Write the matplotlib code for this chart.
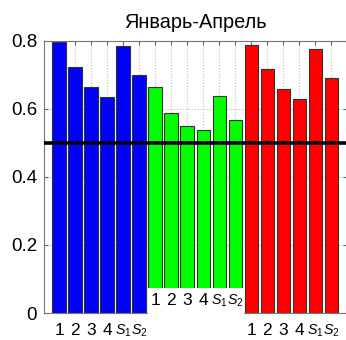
import matplotlib
matplotlib.use("Agg")
import matplotlib.pyplot as plt
import numpy as np
from matplotlib.patches import Rectangle

plt.rcParams['font.family'] = ['Liberation Sans', 'DejaVu Sans']
plt.rcParams['mathtext.fontset'] = 'custom'
plt.rcParams['mathtext.it'] = 'Liberation Sans:italic'
plt.rcParams['mathtext.rm'] = 'Liberation Sans'

title = "Январь-Апрель"
labels = ["1", "2", "3", "4", "$S_1$", "$S_2$"]
blue_vals = [0.795, 0.722, 0.663, 0.635, 0.783, 0.700]
green_vals = [0.663, 0.587, 0.550, 0.537, 0.637, 0.566]
red_vals = [0.788, 0.716, 0.657, 0.628, 0.775, 0.690]
threshold = 0.5
yticks = [0, 0.2, 0.4, 0.6, 0.8]

W, H = 346, 340
fig = plt.figure(figsize=(W / 100, H / 100), dpi=100)
ax = fig.add_axes([44 / W, (H - 313) / H, (347 - 44) / W, (313 - 40.7) / H])

vals = blue_vals + green_vals + red_vals
colors = ['#0000ff'] * 6 + ['#00ff00'] * 6 + ['#ff0000'] * 6
x = np.arange(len(vals))
ax.bar(x, vals, width=0.84, color=colors, edgecolor='#333333', linewidth=0.8, zorder=2)
ax.axhline(threshold, color='black', linewidth=2.6, zorder=4)

S_FS = 10.3
ax.set_xlim(-0.936, 17.97)
ax.set_ylim(0, 0.8)
ax.set_yticks(yticks)
ax.set_yticklabels(["0", "0.2", "0.4", "0.6", "0.8"], fontsize=13.5)
ax.set_xticks(x)
ax.set_xticklabels(labels + [""] * 6 + labels, fontsize=12.5)
for t in ax.get_xticklabels():
    if t.get_text().startswith("$"):
        t.set_fontsize(S_FS)
ax.tick_params(direction='in', top=True, right=True, length=3, color='#666666')
ax.tick_params(axis='x', pad=7)
ax.tick_params(axis='y', pad=5)
for s in ax.spines.values():
    s.set_color('#777777')
    s.set_linewidth(0.8)
ax.grid(True, linestyle=':', color='#bbbbbb', linewidth=0.8, zorder=0)
ax.set_axisbelow(True)

# white patch over the lower part of the green group
patch = Rectangle((5.56, -0.2), 6.0, 0.274, transform=ax.transData,
                  facecolor='white', edgecolor='none', zorder=5, clip_on=False)
ax.add_patch(patch)
for i, lab in enumerate(labels):
    fs = S_FS if lab.startswith("$") else 12.5
    ax.text(6 + i, 0.036, lab, ha='center', va='center', fontsize=fs, zorder=6)

ax.set_title(title, fontsize=14.3, pad=9)
fig.savefig("out.png", dpi=100)
